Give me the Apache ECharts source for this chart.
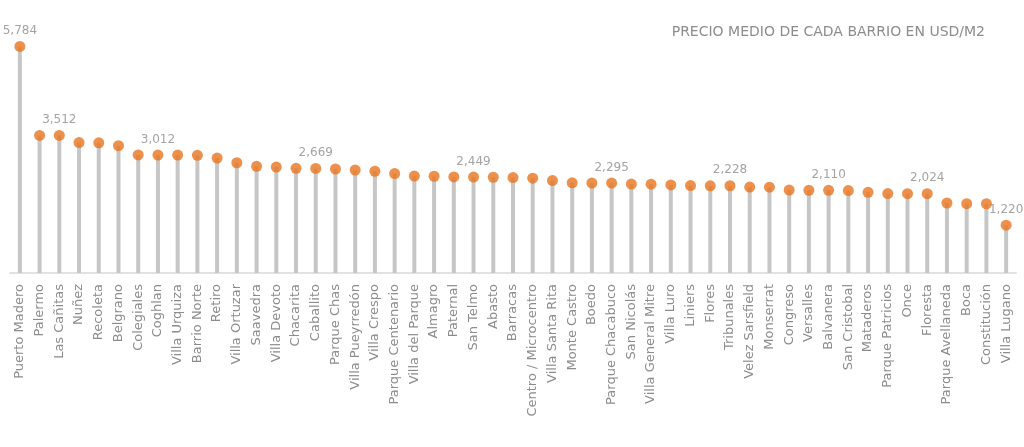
<!DOCTYPE html>
<html>
<head>
<meta charset="utf-8">
<script src="https://cdn.jsdelivr.net/npm/echarts@6/dist/echarts.min.js"></script>
<style>html,body{margin:0;padding:0;background:#fff;}#c{width:1024px;height:447px;}</style>
</head>
<body>
<div id="c"></div>
<script>
const categories = ["Puerto Madero","Palermo","Las Cañitas","Nuñez","Recoleta","Belgrano","Colegiales","Coghlan","Villa Urquiza","Barrio Norte","Retiro","Villa Ortuzar","Saavedra","Villa Devoto","Chacarita","Caballito","Parque Chas","Villa Pueyrredón","Villa Crespo","Parque Centenario","Villa del Parque","Almagro","Paternal","San Telmo","Abasto","Barracas","Centro / Microcentro","Villa Santa Rita","Monte Castro","Boedo","Parque Chacabuco","San Nicolás","Villa General Mitre","Villa Luro","Liniers","Flores","Tribunales","Velez Sarsfield","Monserrat","Congreso","Versalles","Balvanera","San Cristobal","Mataderos","Parque Patricios","Once","Floresta","Parque Avellaneda","Boca","Constitución","Villa Lugano"];
const prices = [5784,3512,3512,3330,3325,3250,3015,3012,3010,3005,2935,2815,2725,2705,2672,2669,2655,2630,2598,2540,2475,2470,2452,2449,2445,2437,2422,2361,2303,2297,2295,2270,2268,2250,2232,2225,2228,2195,2190,2118,2112,2110,2105,2060,2028,2026,2024,1787,1770,1768,1220];
const labeled = ["Puerto Madero","Las Cañitas","Coghlan","Caballito","San Telmo","Parque Chacabuco","Tribunales","Balvanera","Floresta","Villa Lugano"];
const title = "PRECIO MEDIO DE CADA BARRIO EN USD/M2";

const chart = echarts.init(document.getElementById('c'), null, {renderer:'canvas'});
const fontFam = 'DejaVu Sans';
chart.setOption({
  animation:false,
  backgroundColor:'#ffffff',
  title:{text:title, right:34, top:20, textStyle:{fontFamily:fontFam, fontSize:14, fontWeight:'normal', color:'#8c8c8c'}},
  grid:{left:10, right:8, top:38, bottom:174, containLabel:false},
  xAxis:{type:'category', data:categories, boundaryGap:true,
    axisLine:{show:true, lineStyle:{color:'#e2e2e2', width:2}},
    axisTick:{show:false},
    axisLabel:{rotate:90, interval:0, margin:11, fontFamily:fontFam, fontSize:13, color:'#8c8c8c'}},
  yAxis:{type:'value', min:0, max:6000, show:false, splitLine:{show:false}},
  series:[
    {type:'bar', data:prices, barWidth:4, itemStyle:{color:'#c6c6c6'}, z:2, silent:true},
    {type:'scatter', data:prices, symbol:'circle', symbolSize:11, itemStyle:{color:'#e8741e'}, z:3,
      label:{show:true, position:'top', distance:4, fontFamily:fontFam, fontSize:12, color:'#8c8c8c',
        formatter:function(p){ return labeled.indexOf(p.name) >= 0 ? p.value.toLocaleString('en-US') : ''; }}}
  ]
});
</script>
</body>
</html>
